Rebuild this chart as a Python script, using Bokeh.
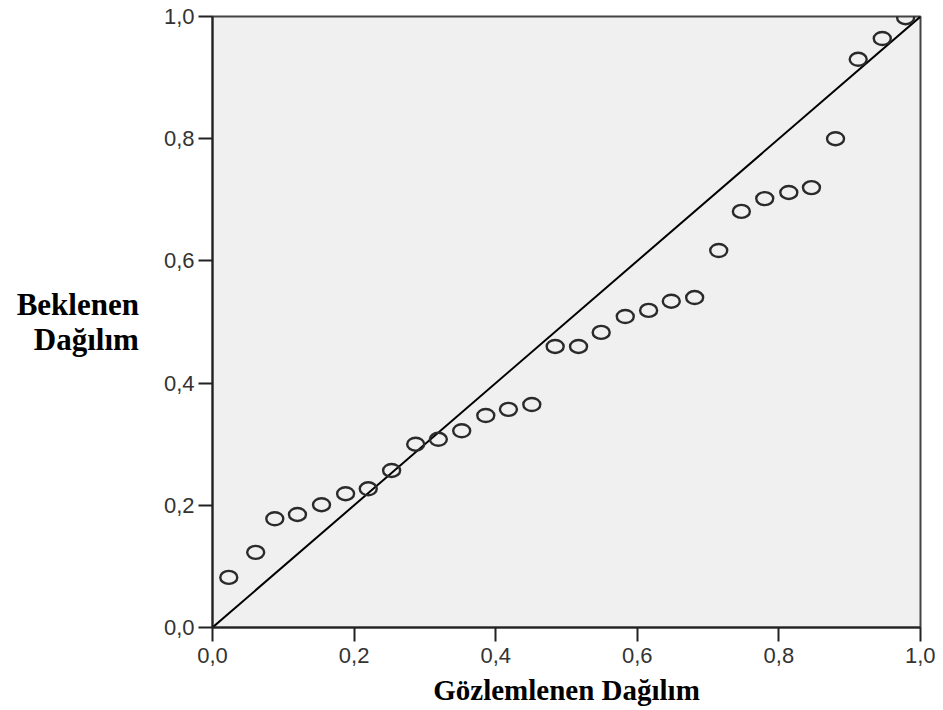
from bokeh.plotting import figure
from bokeh.models import Range1d, FixedTicker
from bokeh.embed import file_html
from bokeh.resources import INLINE

# Observed (Gözlemlenen) vs expected (Beklenen) cumulative probabilities
observed = [0.023, 0.061, 0.088, 0.120, 0.154, 0.188, 0.220, 0.253, 0.287, 0.319,
            0.352, 0.386, 0.418, 0.451, 0.484, 0.517, 0.549, 0.583, 0.616, 0.648,
            0.681, 0.715, 0.747, 0.780, 0.814, 0.846, 0.880, 0.912, 0.946, 0.979]
expected = [0.082, 0.123, 0.178, 0.185, 0.201, 0.219, 0.227, 0.257, 0.300, 0.308,
            0.322, 0.347, 0.357, 0.365, 0.460, 0.460, 0.483, 0.509, 0.519, 0.534,
            0.540, 0.617, 0.681, 0.702, 0.712, 0.720, 0.800, 0.930, 0.964, 0.998]
ref_x = [0.0, 1.0]
ref_y = [0.0, 1.0]
tick_values = [0.0, 0.2, 0.4, 0.6, 0.8, 1.0]
tick_labels = ["0,0", "0,2", "0,4", "0,6", "0,8", "1,0"]
x_title = "Gözlemlenen Dağılım"
y_title = "Beklenen\nDağılım"

p = figure(width=935, height=708, output_backend="svg", toolbar_location=None,
           x_range=Range1d(0, 1), y_range=Range1d(0, 1))
p.min_border_left = 212
p.min_border_right = 15
p.min_border_top = 16
p.min_border_bottom = 75
p.background_fill_color = "#f0f0f0"
p.border_fill_color = "white"
p.outline_line_color = "#444444"
p.outline_line_width = 2
p.xgrid.visible = False
p.ygrid.visible = False

overrides = {v: s for v, s in zip(tick_values, tick_labels)}
for ax in (p.xaxis, p.yaxis):
    ax.ticker = FixedTicker(ticks=tick_values)
    ax.major_label_overrides = overrides
    ax.major_tick_in = 0
    ax.major_tick_out = 14
    ax.major_tick_line_width = 2
    ax.major_tick_line_color = "#222222"
    ax.minor_tick_line_color = None
    ax.axis_line_width = 2
    ax.axis_line_color = "#222222"
    ax.major_label_text_font = "Liberation Sans"
    ax.major_label_text_font_size = "22px"
    ax.major_label_text_color = "#333333"
    ax.axis_label_text_font = "Liberation Serif"
    ax.axis_label_text_font_style = "bold"
    ax.axis_label_text_color = "black"

p.xaxis.major_label_standoff = 6
p.yaxis.major_label_standoff = 4
p.xaxis.axis_label = x_title
p.xaxis.axis_label_text_font_size = "29px"
p.xaxis.axis_label_standoff = 8
p.yaxis.axis_label = y_title
p.yaxis.axis_label_text_font_size = "31px"
p.yaxis.axis_label_text_line_height = 1.0
p.yaxis.axis_label_orientation = "horizontal"
p.yaxis.axis_label_standoff = 22

p.line(ref_x, ref_y, line_color="black", line_width=2)
p.ellipse(x=observed, y=expected, width=17, height=13,
          width_units="screen", height_units="screen",
          fill_color=None, line_color="#2a2a2a", line_width=2.4)

open("out.html", "w").write(file_html(p, INLINE))
